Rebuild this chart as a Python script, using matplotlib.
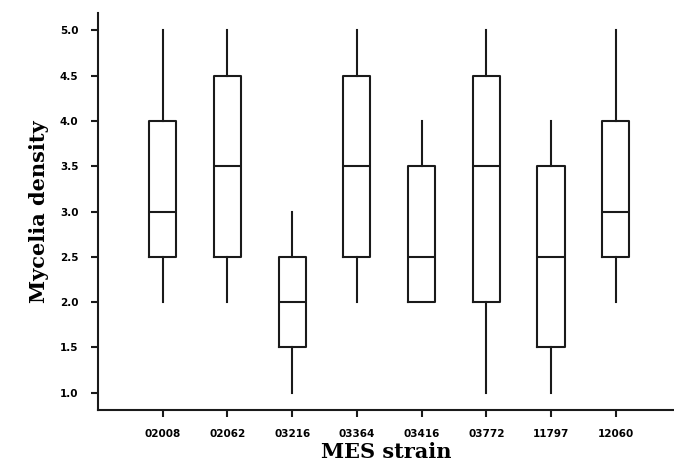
import matplotlib
matplotlib.use("Agg")
import matplotlib.pyplot as plt

# box plot summary per strain
strains = ['02008', '02062', '03216', '03364', '03416', '03772', '11797', '12060']
whislo = [2.0, 2.0, 1.0, 2.0, 2.0, 1.0, 1.0, 2.0]
q1 = [2.5, 2.5, 1.5, 2.5, 2.0, 2.0, 1.5, 2.5]
med = [3.0, 3.5, 2.0, 3.5, 2.5, 3.5, 2.5, 3.0]
q3 = [4.0, 4.5, 2.5, 4.5, 3.5, 4.5, 3.5, 4.0]
whishi = [5.0, 5.0, 3.0, 5.0, 4.0, 5.0, 4.0, 5.0]
yticks = [1.0, 1.5, 2.0, 2.5, 3.0, 3.5, 4.0, 4.5, 5.0]


def main():
    stats = []
    for i in range(len(strains)):
        stats.append(dict(label=strains[i], whislo=whislo[i], q1=q1[i],
                          med=med[i], q3=q3[i], whishi=whishi[i], fliers=[]))

    fig = plt.figure(figsize=(6.74, 4.61), dpi=100)
    ax = fig.add_axes([0.1454, 0.1106, 0.8546, 0.8612])

    lc = '#1a1a1a'
    lw = 1.5
    ax.bxp(stats, positions=range(1, len(strains) + 1), widths=0.42,
           showcaps=False, showfliers=False,
           boxprops=dict(color=lc, linewidth=lw),
           whiskerprops=dict(color=lc, linewidth=lw),
           medianprops=dict(color=lc, linewidth=lw))

    ax.set_xlim(0.0, 8.9)
    ax.set_ylim(0.81, 5.19)
    ax.set_yticks(yticks)
    ax.set_yticklabels(['%.1f' % v for v in yticks],
                       fontsize=7.5, fontweight='bold')
    ax.set_xticks(range(1, len(strains) + 1))
    ax.set_xticklabels(strains, fontsize=7.5, fontweight='bold')

    for s in ['top', 'right']:
        ax.spines[s].set_visible(False)
    for s in ['left', 'bottom']:
        ax.spines[s].set_color(lc)
        ax.spines[s].set_linewidth(lw)
    ax.tick_params(direction='out', length=5, width=lw, color=lc, pad=9)

    ax.set_xlabel('MES strain', fontsize=15, fontweight='bold',
                  family='DejaVu Serif', labelpad=2)
    ax.set_ylabel('Mycelia density', fontsize=15, fontweight='bold',
                  family='DejaVu Serif', labelpad=8)

    fig.savefig('out.png', dpi=100)


if __name__ == "__main__":
    main()
